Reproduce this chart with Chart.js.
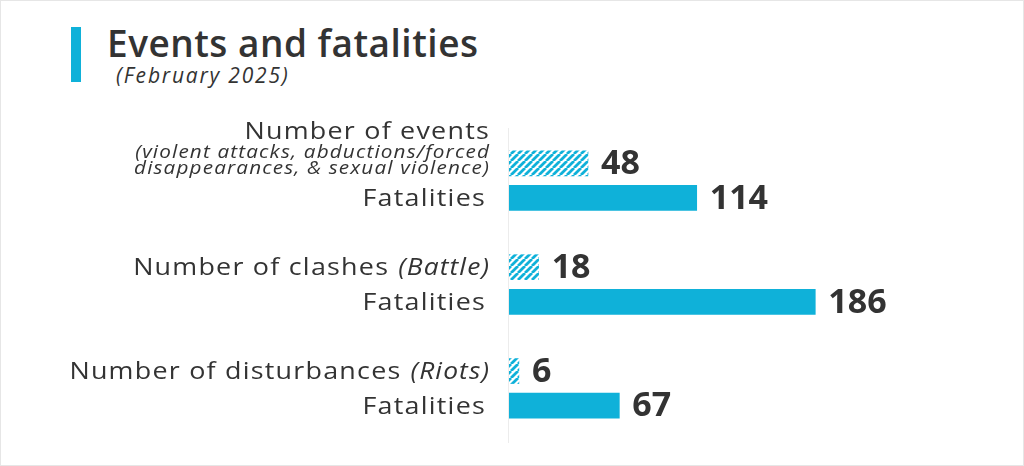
<!DOCTYPE html>
<html>
<head>
<meta charset="utf-8">
<script src="https://cdn.jsdelivr.net/npm/chart.js@4"></script>
<style>
  html, body { margin: 0; padding: 0; background: #fff; }
  #wrap { position: relative; width: 1022px; height: 464px; border: 1px solid #e6e6e6; overflow: hidden; }
  #mark { position: absolute; left: 70px; top: 26px; width: 10px; height: 55px; background: #0fb1d9; }
  #title { position: absolute; left: 106px; top: 16px; font: 600 37px "Open Sans", sans-serif; color: #333; letter-spacing: 0.5px; }
  #sub { position: absolute; left: 115px; top: 60px; font: italic 21px "Open Sans", sans-serif; color: #333; letter-spacing: 1.8px; }
  canvas { position: absolute; left: -1px; top: -1px; }
</style>
</head>
<body>
<div id="wrap">
  <div id="mark"></div>
  <div id="title">Events and fatalities</div>
  <div id="sub">(February 2025)</div>
  <canvas id="chart" width="1024" height="466"></canvas>
</div>
<script>
// rows, blank rows are gaps between groups
const categories = ['Number of events', 'Fatalities', '', 'Number of clashes', 'Fatalities', '', 'Number of disturbances', 'Fatalities'];
const italicParts = ['', '', '', '(Battle)', '', '', '(Riots)', ''];
const notes = [['(violent attacks, abductions/forced', 'disappearances, & sexual violence)'], [], [], [], [], [], [], []];
const values = [48, 114, null, 18, 186, null, 6, 67];
const hatched = [true, false, false, true, false, false, true, false];

const blue = '#0fb1d9';

function stripes() {
  const c = document.createElement('canvas');
  c.width = 7; c.height = 7;
  const g = c.getContext('2d');
  g.fillStyle = '#fff';
  g.fillRect(0, 0, 7, 7);
  g.strokeStyle = blue;
  g.lineWidth = 2.8;
  g.beginPath();
  for (let k = -1; k <= 1; k++) {
    g.moveTo(k * 7, 7);
    g.lineTo(k * 7 + 7, 0);
  }
  g.stroke();
  return g.createPattern(c, 'repeat');
}

// draw text stretched a little sideways, anchored at its right or left end
function text(g, t, x, y, font, sx, ls, align) {
  g.save();
  g.font = font;
  g.letterSpacing = ls + 'px';
  const w = g.measureText(t).width * sx;
  g.translate(align === 'right' ? x - w : x, y);
  g.scale(sx, 1);
  g.textAlign = 'left';
  g.fillText(t, 0, 0);
  g.restore();
  return w;
}

const ctx = document.getElementById('chart').getContext('2d');
const pattern = stripes();

const labelsPlugin = {
  id: 'labels',
  afterDatasetsDraw(chart) {
    const g = chart.ctx;
    const y = chart.scales.y;
    const area = chart.chartArea;
    g.save();
    // faint axis line
    g.strokeStyle = '#ececec';
    g.lineWidth = 1;
    g.beginPath();
    g.moveTo(area.left - 0.5, 128);
    g.lineTo(area.left - 0.5, 443);
    g.stroke();

    g.fillStyle = '#333';
    g.textBaseline = 'middle';
    const right = area.left - 19;
    categories.forEach((name, i) => {
      if (!name) return;
      const cy = y.getPixelForValue(i);
      const hasNotes = notes[i].length > 0;
      const ly = hasNotes ? cy - 31 : cy + 1;
      let x = right + (name === 'Fatalities' ? -4 : 0);
      if (italicParts[i]) {
        x -= text(g, italicParts[i], x, ly, 'italic 24px "Open Sans"', 1.1, 1, 'right') + 9;
      }
      text(g, name, x, ly, '24px "Open Sans"', 1.12, 1.1, 'right');
      notes[i].forEach((t, k) => {
        text(g, t, right, cy - 10 + k * 16, 'italic 18px "Open Sans"', 1.15, 1, 'right');
      });
    });

    // values at bar ends
    const meta = chart.getDatasetMeta(0);
    meta.data.forEach((bar, i) => {
      if (values[i] == null) return;
      text(g, String(values[i]), bar.x + 13, bar.y + 1, 'bold 34px "Open Sans"', 1.0, 0, 'left');
    });
    g.restore();
  }
};

new Chart(ctx, {
  type: 'bar',
  data: {
    labels: categories,
    datasets: [{
      data: values,
      backgroundColor: hatched.map(h => h ? pattern : blue),
      barThickness: 25,
      borderWidth: 0
    }]
  },
  options: {
    indexAxis: 'y',
    responsive: false,
    animation: false,
    layout: { padding: { left: 509, right: 21, top: 146, bottom: 43 } },
    scales: {
      x: { display: false, min: 0, max: 300 },
      y: { display: false }
    },
    plugins: {
      legend: { display: false },
      tooltip: { enabled: false }
    }
  },
  plugins: [labelsPlugin]
});
</script>
</body>
</html>
